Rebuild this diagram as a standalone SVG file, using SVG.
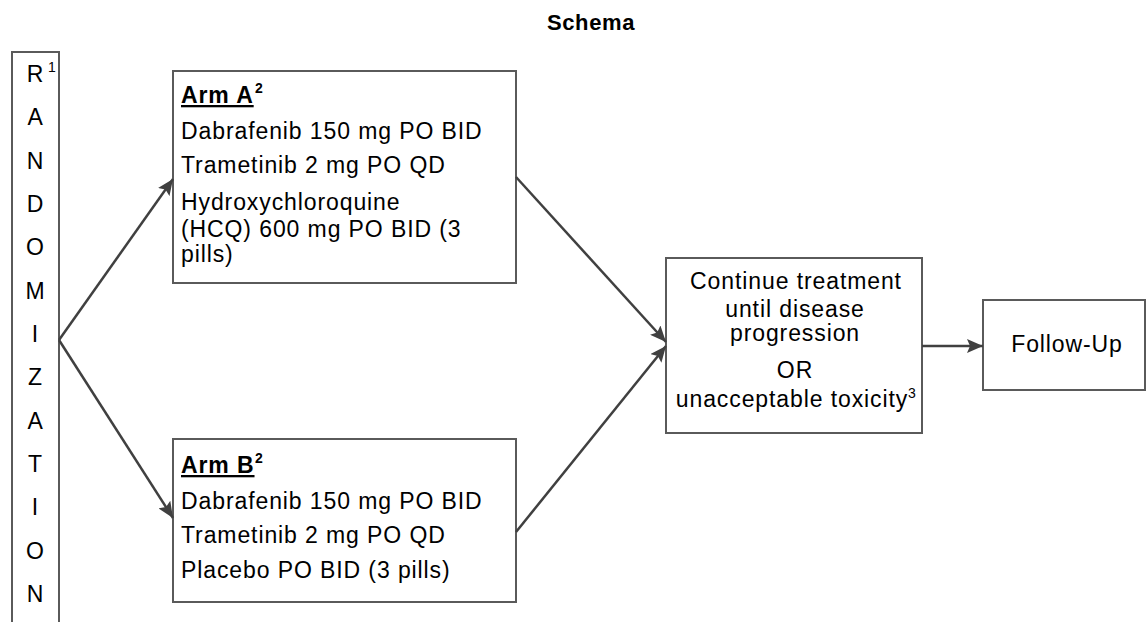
<svg xmlns="http://www.w3.org/2000/svg" width="1147" height="622" viewBox="0 0 1147 622">
<style>
text{font-family:"Liberation Sans",Arial,sans-serif;fill:#000;font-size:23px;letter-spacing:0.9px}
.title{font-weight:bold;font-size:22px;letter-spacing:0.6px}
.hd{font-weight:bold;text-decoration:underline}
.sup{font-size:14px;letter-spacing:0}
.supb{font-size:14px;font-weight:bold;letter-spacing:0}
.box{fill:#fff;stroke:#5a5a5a;stroke-width:2}
.conn{stroke:#404040;stroke-width:2.5;fill:none}
.mid{text-anchor:middle}
</style>
<defs>
<marker id="ah" markerUnits="userSpaceOnUse" markerWidth="18" markerHeight="14" refX="16" refY="7" orient="auto">
<path d="M0,0 L16,7 L0,14 L3,7 z" fill="#404040"/>
</marker>
</defs>
<rect width="1147" height="622" fill="#fff"/>
<text class="title mid" x="591" y="30">Schema</text>

<g id="randomization">
<rect class="box" x="12" y="52" width="47" height="600"/>
<g class="mid">
<text x="35.5" y="82">R</text>
<text x="35.5" y="125.3">A</text>
<text x="35.5" y="168.7">N</text>
<text x="35.5" y="212">D</text>
<text x="35.5" y="255.3">O</text>
<text x="35.5" y="298.7">M</text>
<text x="35.5" y="342">I</text>
<text x="35.5" y="385.3">Z</text>
<text x="35.5" y="428.7">A</text>
<text x="35.5" y="472">T</text>
<text x="35.5" y="515.3">I</text>
<text x="35.5" y="558.7">O</text>
<text x="35.5" y="602">N</text>
</g>
<text class="sup" x="48" y="72">1</text>
</g>

<g id="armA">
<rect class="box" x="173" y="71" width="343" height="212"/>
<text class="hd" x="181" y="103">Arm A</text>
<text class="supb" x="255" y="93">2</text>
<text x="181" y="139">Dabrafenib 150 mg PO BID</text>
<text x="181" y="173">Trametinib 2 mg PO QD</text>
<text x="181" y="210">Hydroxychloroquine</text>
<text x="181" y="237">(HCQ) 600 mg PO BID (3</text>
<text x="181" y="262">pills)</text>
</g>

<g id="armB">
<rect class="box" x="173" y="439" width="343" height="163"/>
<text class="hd" x="181" y="473">Arm B</text>
<text class="supb" x="255" y="463">2</text>
<text x="181" y="509">Dabrafenib 150 mg PO BID</text>
<text x="181" y="543">Trametinib 2 mg PO QD</text>
<text x="181" y="578">Placebo PO BID (3 pills)</text>
</g>

<g id="continue">
<rect class="box" x="666" y="258" width="256" height="175"/>
<g class="mid">
<text x="796" y="289">Continue treatment</text>
<text x="795" y="317">until disease</text>
<text x="795" y="341">progression</text>
<text x="795" y="378">OR</text>
<text x="792" y="407">unacceptable toxicity</text>
</g>
<text class="sup" x="908" y="398">3</text>
</g>

<g id="followup">
<rect class="box" x="983" y="300" width="162" height="90"/>
<text class="mid" x="1067" y="352">Follow-Up</text>
</g>

<g id="connectors">
<line class="conn" x1="59" y1="340" x2="173" y2="179" marker-end="url(#ah)"/>
<line class="conn" x1="59" y1="340" x2="173" y2="518" marker-end="url(#ah)"/>
<line class="conn" x1="516" y1="177" x2="666" y2="342" marker-end="url(#ah)"/>
<line class="conn" x1="516" y1="532" x2="666" y2="346" marker-end="url(#ah)"/>
<line class="conn" x1="922" y1="346" x2="983" y2="346" marker-end="url(#ah)"/>
</g>
</svg>
